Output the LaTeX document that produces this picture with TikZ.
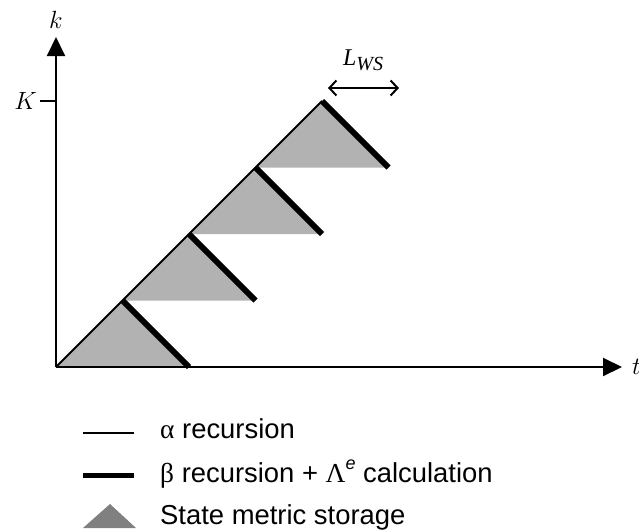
\documentclass[tikz,border=0pt]{standalone}
\usepackage{fontspec}
\usepackage{tikz}
\usetikzlibrary{positioning}
\usetikzlibrary{arrows.meta}
\newfontfamily\legendfont{Liberation Sans}
\newfontfamily\greekfont{Liberation Serif}

\begin{document}
\begin{tikzpicture}[
    x=1pt,
    y=1pt,
    axis/.style={
        -{Triangle[length=19pt,width=18pt]},
        line width=2pt
    },
    alphaline/.style={
        line width=2pt
    },
    betaline/.style={
        line width=6pt
    },
    storage/.style={
        fill=black!30
    },
    wsarrow/.style={
        {Straight Barb[length=7pt,width=15pt]}-{Straight Barb[length=7pt,width=15pt]},
        line width=2pt
    },
    axislabel/.style={
        inner sep=0pt,
        font=\fontsize{25}{30}\selectfont
    },
    legendtext/.style={
        anchor=base west,
        inner sep=0pt,
        font=\fontsize{27.4}{32}\selectfont\legendfont
    }
]

    \useasboundingbox (-56,-164) rectangle (583,367);

    \coordinate (O) at (0,0);
    \coordinate (ytip) at (0,330);
    \coordinate (xtip) at (566,0);
    \coordinate (top) at (266,266);

    \foreach \i in {1,...,4}
    {
        \fill[storage]
        ({(\i-1)*66.5},{(\i-1)*66.5})
            -- ({\i*66.5},{\i*66.5})
            -- ({(\i+1)*66.5},{(\i-1)*66.5})
            -- cycle;
    }

    \draw[axis] (O) -- (ytip);
    \draw[axis] (O) -- (xtip);

    \draw[alphaline] (O) -- (top);

    \foreach \i in {1,...,4}
    {
        \draw[betaline]
        ({\i*66.5},{\i*66.5})
            -- ({(\i+1)*66.5},{(\i-1)*66.5});
    }

    \node[axislabel] (klabel) at (0,347) {$k$};
    \node[axislabel,anchor=west] (tlabel) at (576,0) {$t$};

    \coordinate (Ktick) at (-16,266);
    \coordinate (Kaxis) at (0,266);
    \draw[line width=2pt] (Ktick) -- (Kaxis);
    \node[axislabel] (Klabel) [left=3pt of Ktick] {$K$};

    \coordinate (wsleft) at (272,279);
    \coordinate (wsright) at (343,279);
    \draw[wsarrow] (wsleft) -- (wsright);
    \node[inner sep=0pt,font=\fontsize{24}{28}\selectfont\greekfont\itshape] (wslabel)
    at (307,307)
    {
        L\raisebox{-0.22em}{\fontsize{20}{23}\selectfont WS}
    };

    \coordinate (alphastart) at (27,-66);
    \coordinate (alphaend) at (78,-66);
    \draw[alphaline] (alphastart) -- (alphaend);
    \node[legendtext] (alphatext) at (104,-71)
    {
        {\greekfont α} recursion
    };

    \coordinate (betastart) at (27,-108);
    \coordinate (betaend) at (78,-108);
    \draw[line width=5pt] (betastart) -- (betaend);
    \node[legendtext] (betatext) at (104,-115)
    {
        {\greekfont β} recursion + {\greekfont Λ}\raisebox{0.45em}{\fontsize{18}{21}\selectfont\itshape e} calculation
    };

    \fill[black!50] (27,-161) -- (54,-137) -- (80,-161) -- cycle;
    \node[legendtext] (storagetext) at (104,-157)
    {
        State metric storage
    };

\end{tikzpicture}
\end{document}
